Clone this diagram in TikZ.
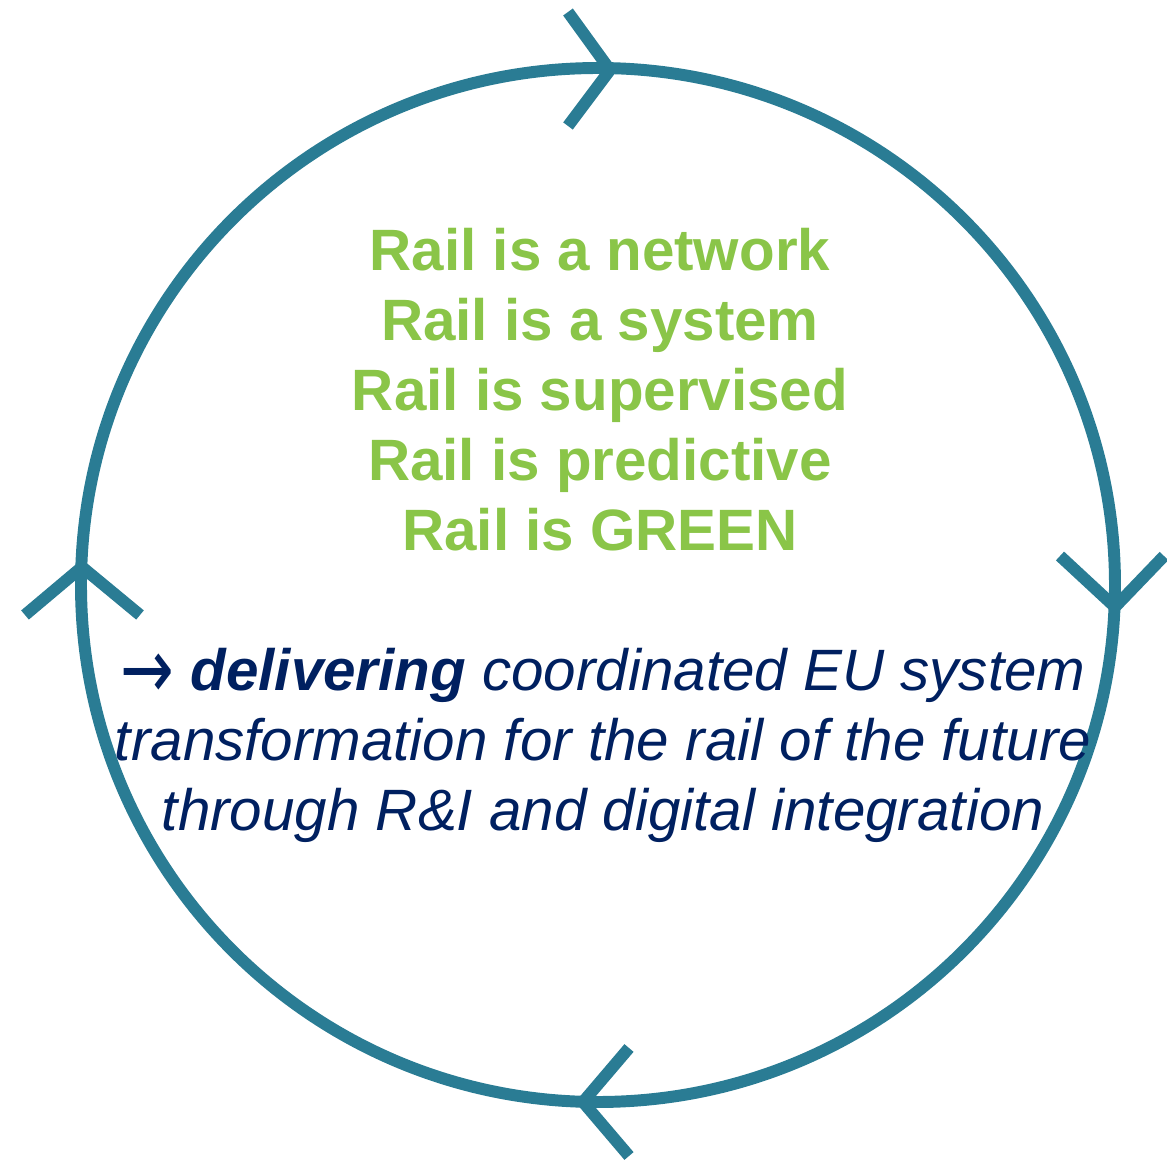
\documentclass[tikz,border=0pt]{standalone}
\usepackage{fontspec}
\setmainfont{Liberation Sans}
\newfontfamily\arrowfont{DejaVu Sans}
\definecolor{ringteal}{RGB}{42,124,148}
\definecolor{railgreen}{RGB}{138,197,72}
\definecolor{eunavy}{RGB}{0,32,96}
\tikzset{
  ring/.style={draw=ringteal, line width=3.4pt},
  chev/.style={draw=ringteal, line width=3.4pt, line join=round},
  railtext/.style={align=center, text=railgreen, font=\bfseries\fontsize{16.6}{19.9}\selectfont},
  futuretext/.style={align=center, text=eunavy, font=\itshape\fontsize{16.6}{19.9}\selectfont}
}
\begin{document}
\begin{tikzpicture}
\useasboundingbox (0,0) rectangle (11.67,11.68);
\coordinate (centre) at (5.98,5.83);
\draw[ring] (centre) circle (5.17);

% chevrons, clockwise
\draw[chev] plot coordinates {(5.68,11.56) (6.10,10.98) (5.68,10.42)};
\draw[chev] plot coordinates {(10.60,6.12) (11.15,5.61) (11.64,6.12)};
\draw[chev] plot coordinates {(6.29,1.20) (5.83,0.66) (6.29,0.12)};
\draw[chev] plot coordinates {(0.25,5.53) (0.82,6.01) (1.40,5.53)};

\node[railtext] (rail) at (6.00,7.78) {Rail is a network\\Rail is a system\\Rail is supervised\\Rail is predictive\\Rail is GREEN};
\node[futuretext] (future) at (6.03,4.23) {\smash{\raisebox{-0.14em}{\scalebox{1.1}[1.45]{\upshape\mdseries\arrowfont →}}} \textbf{delivering} coordinated EU system\\transformation for the rail of the future\\through R\&I and digital integration};
\end{tikzpicture}
\end{document}
